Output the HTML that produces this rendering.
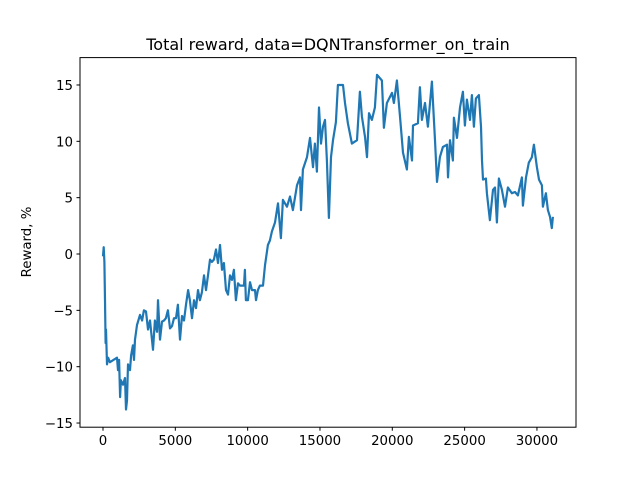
<!DOCTYPE html>
<html><head><meta charset="utf-8"><style>
body{margin:0;background:#fff;}
svg{display:block;font-family:"DejaVu Sans","Liberation Sans",sans-serif;}
</style></head><body>
<svg id="chart" width="640" height="480" viewBox="0 0 640 480">
<rect width="640" height="480" fill="#fff"/>
<text x="328" y="50" font-size="16" text-anchor="middle" fill="#000">Total reward, data=DQNTransformer_on_train</text>
<text transform="translate(31,242) rotate(-90)" font-size="13.33" text-anchor="middle" fill="#000">Reward, %</text>
<g id="ticks"></g>
<polyline id="series" fill="none" stroke="#1f77b4" stroke-width="2.2" stroke-linejoin="round"/>
<rect x="80" y="57.6" width="496" height="369.6" fill="none" stroke="#000" stroke-width="1"/>
</svg>
<script>
const xsData=[0,50,100,140,180,210,280,350,480,970,1040,1110,1180,1240,1380,1520,1590,1660,1730,1870,1940,2070,2140,2210,2350,2560,2700,2830,2970,3110,3250,3460,3590,3730,3800,3940,4080,4220,4350,4490,4630,4770,4910,5050,5180,5320,5460,5600,5740,5880,6010,6150,6290,6430,6570,6700,6840,6980,7120,7260,7400,7530,7670,7810,7950,8090,8230,8360,8500,8640,8780,8920,9050,9190,9330,9470,9750,9810,9880,10020,10160,10300,10510,10580,10710,10850,11060,11200,11400,11540,11680,11890,12100,12300,12440,12720,12930,13130,13410,13620,13690,13820,14100,14310,14520,14650,14790,14930,15070,15210,15350,15480,15620,15760,15900,16100,16240,16590,16730,16930,17210,17560,17760,17900,18110,18250,18390,18590,18800,18940,19280,19420,19630,19980,20110,20320,20530,20740,21010,21150,21360,21430,21770,21910,22050,22260,22460,22740,22950,23090,23290,23500,23780,23850,23990,24190,24260,24470,24680,24880,25020,25160,25370,25500,25640,25780,25990,26130,26200,26270,26470,26540,26750,26960,27100,27230,27370,27580,27790,27990,28270,28480,28680,28960,29030,29240,29440,29650,29790,30000,30140,30340,30410,30620,30760,30900,31030,31100];
const rewards=[-0.2,0.6,-0.7,-4.1,-7.9,-6.7,-9.8,-9.2,-9.6,-9.2,-10.3,-9.4,-12.7,-11.2,-11.6,-11.0,-13.8,-13.0,-9.8,-10.3,-9.0,-8.1,-9.4,-7.6,-6.3,-5.4,-5.9,-5.0,-5.1,-6.7,-5.9,-8.5,-5.9,-6.9,-4.1,-7.6,-6.0,-5.9,-5.7,-5.0,-6.6,-6.4,-5.7,-5.7,-4.5,-7.6,-5.5,-5.9,-4.5,-3.2,-4.1,-5.7,-4.1,-4.8,-3.2,-4.1,-3.4,-1.9,-3.2,-1.9,-0.5,-0.7,-0.5,0.4,-0.8,0.8,-1.4,-0.8,-3.2,-3.6,-1.9,-2.3,-1.4,-4.1,-2.6,-2.8,-2.8,-1.4,-4.1,-4.1,-2.5,-3.2,-3.2,-4.1,-3.2,-2.8,-2.8,-1.0,0.8,1.2,2.0,2.8,4.5,1.4,4.8,4.2,5.1,3.9,6.1,6.8,3.9,7.5,8.6,10.3,7.7,9.8,7.3,13.0,9.8,11.3,11.9,8.3,3.2,8.6,10.1,11.7,15.0,15.0,13.4,11.6,9.8,10.1,14.4,12.2,10.4,8.6,12.5,11.9,13.0,15.9,15.4,11.2,13.4,14.3,13.4,15.4,12.2,9.0,7.5,10.4,8.3,11.4,11.6,14.8,11.9,13.4,11.3,15.3,10.1,6.4,8.6,9.5,9.7,6.8,10.1,8.3,12.1,10.3,13.0,14.4,11.4,13.7,11.9,14.1,11.3,13.8,14.1,11.3,8.3,6.6,6.7,5.4,3.0,5.7,5.9,2.8,6.7,5.7,4.2,5.9,5.4,5.5,5.2,6.8,4.3,6.8,8.1,8.6,9.7,7.7,6.6,6.1,4.2,5.4,3.9,3.3,2.3,3.3];
const xTicks=[0,5000,10000,15000,20000,25000,30000];
const yTicks=[-15,-10,-5,0,5,10,15];
const xMin=-1590,xMax=32700,yMin=-15.37,yMax=17.43;
const L=80,R=576,T=57.6,B=427.2;
const sx=v=>L+(v-xMin)/(xMax-xMin)*(R-L);
const sy=v=>B-(v-yMin)/(yMax-yMin)*(B-T);
const NS="http://www.w3.org/2000/svg";
const line=document.getElementById('series');
line.setAttribute('points',xsData.map((x,i)=>sx(x).toFixed(1)+','+sy(rewards[i]).toFixed(1)).join(' '));
const g=document.getElementById('ticks');
xTicks.forEach(t=>{
 const l=document.createElementNS(NS,'line');
 
 
 l.setAttribute('x1',sx(t));l.setAttribute('x2',sx(t));l.setAttribute('y1',B);l.setAttribute('y2',B+3.5);l.setAttribute('stroke','#000');
 g.appendChild(l);
 const tx=document.createElementNS(NS,'text');
 
 
 tx.setAttribute('x',sx(t));tx.setAttribute('y',B+18);tx.setAttribute('font-size','13.33');tx.setAttribute('text-anchor','middle');
 tx.textContent=t;g.appendChild(tx);
});
yTicks.forEach(t=>{
 const l=document.createElementNS(NS,'line');
 
 
 l.setAttribute('x1',L-3.5);l.setAttribute('x2',L);l.setAttribute('y1',sy(t));l.setAttribute('y2',sy(t));l.setAttribute('stroke','#000');
 g.appendChild(l);
 const tx=document.createElementNS(NS,'text');
 
 
 tx.setAttribute('x',L-7);tx.setAttribute('y',sy(t)+5);tx.setAttribute('font-size','13.33');tx.setAttribute('text-anchor','end');
 tx.textContent=t<0?'\u2212'+(-t):t;g.appendChild(tx);
});
</script>
</body></html>
